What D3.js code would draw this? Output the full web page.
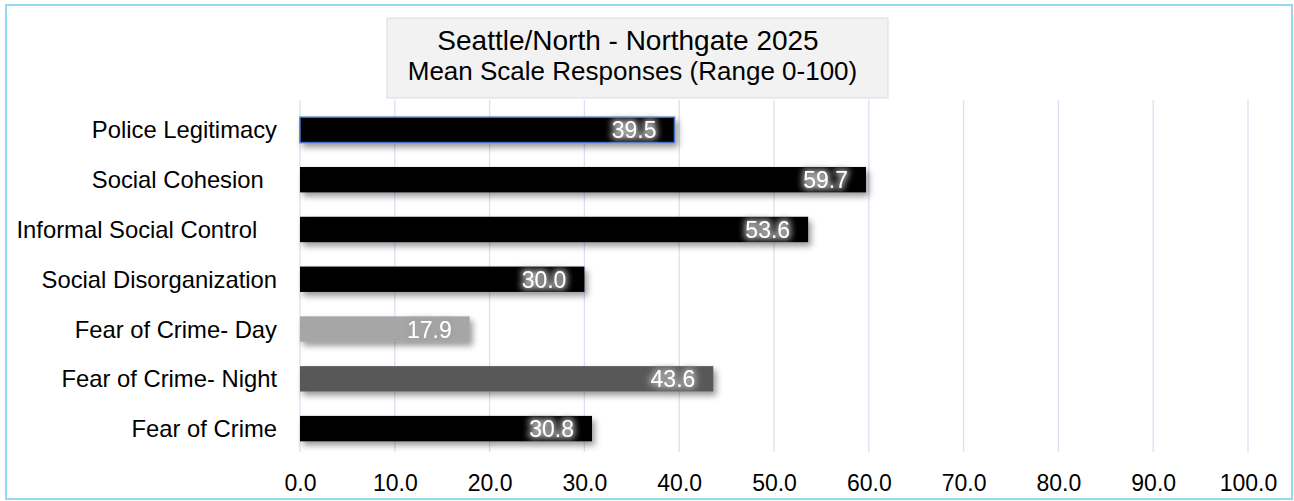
<!DOCTYPE html>
<html>
<head>
<meta charset="utf-8">
<script src="https://cdn.jsdelivr.net/npm/d3@7"></script>
<style>
  html, body { margin: 0; padding: 0; background: #fff; }
  text { font-family: "Liberation Sans", Arial, sans-serif; }
</style>
</head>
<body>
<script>
const categories = [
  "Police Legitimacy",
  "Social Cohesion  ",
  "Informal Social Control   ",
  "Social Disorganization",
  "Fear of Crime- Day",
  "Fear of Crime- Night",
  "Fear of Crime"
]
const values = [39.5, 59.7, 53.6, 30.0, 17.9, 43.6, 30.8]
const barColors = ["#000000", "#000000", "#000000", "#000000", "#a6a6a6", "#595959", "#000000"]
const ticks = [0, 10, 20, 30, 40, 50, 60, 70, 80, 90, 100]
const title = "Seattle/North - Northgate 2025"
const subtitle = "Mean Scale Responses (Range 0-100)"

const width = 1294
const height = 501

let svg = d3.select('body')
  .append('svg')
  .attr('width', width)
  .attr('height', height)

let defs = svg.append('defs')

// soft drop shadow under bars
let shadow = defs.append('filter')
  .attr('id', 'barShadow')
  .attr('x', '-5%').attr('y', '-40%')
  .attr('width', '115%').attr('height', '200%')
shadow.append('feDropShadow')
  .attr('dx', 3).attr('dy', 4)
  .attr('stdDeviation', 3)
  .attr('flood-color', '#000')
  .attr('flood-opacity', 0.4)

// grey glow behind value labels
let glow = defs.append('filter')
  .attr('id', 'labelGlow')
  .attr('x', '-30%').attr('y', '-40%')
  .attr('width', '160%').attr('height', '180%')
glow.append('feMorphology')
  .attr('in', 'SourceAlpha').attr('operator', 'dilate').attr('radius', 2)
  .attr('result', 'fat')
glow.append('feGaussianBlur')
  .attr('in', 'fat').attr('stdDeviation', 3).attr('result', 'blur')
glow.append('feFlood').attr('flood-color', '#a0a0a0').attr('result', 'col')
glow.append('feComposite')
  .attr('in', 'col').attr('in2', 'blur').attr('operator', 'in').attr('result', 'halo')
let merge = glow.append('feMerge')
merge.append('feMergeNode').attr('in', 'halo')
merge.append('feMergeNode').attr('in', 'SourceGraphic')

// outer frame
svg.append('rect')
  .attr('x', 6).attr('y', 5)
  .attr('width', 1286).attr('height', 494)
  .attr('fill', '#fff')
  .attr('stroke', '#93d9f4')
  .attr('stroke-width', 2)

let x = d3.scaleLinear()
  .domain([0, 100])
  .range([300, 1248])

let y = d3.scaleBand()
  .domain(categories)
  .range([105, 453.5])
  .paddingInner(0.49)
  .paddingOuter(0.245)

// gridlines
svg.append('g')
  .selectAll('line')
  .data(ticks)
  .enter()
  .append('line')
  .attr('x1', d => x(d)).attr('x2', d => x(d))
  .attr('y1', 100).attr('y2', 452)
  .attr('stroke', '#d9e1f2')
  .attr('stroke-width', 1.3)

// x axis labels
let xAxis = d3.axisBottom(x)
  .tickValues(ticks)
  .tickFormat(d3.format('.1f'))
  .tickSize(0)
  .tickPadding(0)

let gx = svg.append('g')
  .attr('transform', 'translate(0,473)')
  .call(xAxis)
gx.select('.domain').remove()
gx.selectAll('text')
  .attr('dy', '0.78em')
  .style('font-size', '23px')
  .style('font-family', '"Liberation Sans", Arial, sans-serif')
  .attr('fill', '#000')

// category labels
svg.append('g')
  .selectAll('text')
  .data(categories)
  .enter()
  .append('text')
  .attr('x', 277)
  .attr('y', d => y(d) + y.bandwidth() / 2 + 8.5)
  .attr('text-anchor', 'end')
  .attr('xml:space', 'preserve')
  .style('white-space', 'pre')
  .style('font-size', '23.8px')
  .attr('fill', '#000')
  .text(d => d)

// bars
svg.append('g')
  .selectAll('rect')
  .data(values)
  .enter()
  .append('rect')
  .attr('x', x(0))
  .attr('y', (d, i) => y(categories[i]))
  .attr('width', d => x(d) - x(0))
  .attr('height', y.bandwidth())
  .attr('fill', (d, i) => barColors[i])
  .attr('stroke', (d, i) => i === 0 ? '#4472c4' : 'none')
  .attr('stroke-width', 1.5)
  .attr('filter', 'url(#barShadow)')

// value labels
svg.append('g')
  .selectAll('text')
  .data(values)
  .enter()
  .append('text')
  .attr('x', d => x(d) - 18)
  .attr('y', (d, i) => y(categories[i]) + y.bandwidth() / 2 + 8.5)
  .attr('text-anchor', 'end')
  .style('font-size', '23px')
  .attr('fill', '#fff')
  .attr('filter', 'url(#labelGlow)')
  .text(d => d.toFixed(1))

// title box
svg.append('rect')
  .attr('x', 387).attr('y', 18)
  .attr('width', 501).attr('height', 80)
  .attr('fill', '#f2f2f2')
  .attr('stroke', '#dcdcdc')
  .attr('stroke-width', 1)

svg.append('text')
  .attr('x', 628).attr('y', 50)
  .attr('text-anchor', 'middle')
  .style('font-size', '28px')
  .attr('fill', '#000')
  .text(title)

svg.append('text')
  .attr('x', 632.5).attr('y', 80)
  .attr('text-anchor', 'middle')
  .style('font-size', '26px')
  .attr('fill', '#000')
  .text(subtitle)
</script>
</body>
</html>
